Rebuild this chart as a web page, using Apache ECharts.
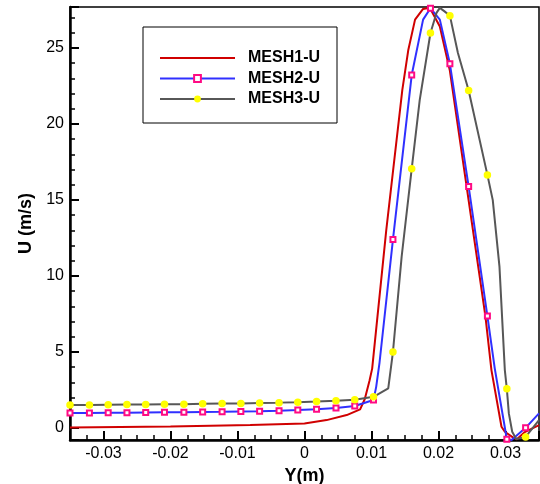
<!DOCTYPE html>
<html>
<head>
<meta charset="utf-8">
<script src="https://cdn.jsdelivr.net/npm/echarts@6/dist/echarts.min.js"></script>
<style>
  html, body { margin: 0; padding: 0; background: #fff; }
  #chart { width: 540px; height: 484px; }
</style>
</head>
<body>
<div id="chart"></div>
<script>
// marker positions (shared by MESH2 / MESH3 symbols)
const markerX = [-0.0350, -0.0321, -0.0293, -0.0265, -0.0237, -0.0209, -0.0180, -0.0152,
  -0.0123, -0.0095, -0.0067, -0.0038, -0.0010, 0.0018, 0.0047, 0.0075, 0.0103,
  0.0132, 0.0160, 0.0188, 0.0217, 0.0245, 0.0273, 0.0302, 0.0330]

// MESH1 - line only
const mesh1X = [-0.035, -0.0200, -0.0081, 0.0, 0.0033, 0.0063, 0.0083, 0.0090, 0.0097, 0.0101,
  0.0122, 0.0146, 0.0155, 0.0165, 0.0177, 0.0187, 0.0202, 0.0217, 0.0242, 0.0270, 0.0279,
  0.0294, 0.0299, 0.0311, 0.0317, 0.0328, 0.035]
const mesh1Y = [0.02, 0.09, 0.18, 0.29, 0.51, 0.84, 1.22, 1.9, 3.1, 3.9,
  13.0, 22.25, 24.89, 26.87, 27.57, 27.65, 26.42, 23.5, 15.88, 7.36, 3.8,
  0.07, -0.26, -0.63, -0.75, -0.3, 0.18]

// MESH2 - values at markers + extra line vertices
const mesh2MarkY = [0.98, 0.98, 0.99, 1.0, 1.01, 1.02, 1.03, 1.05, 1.06, 1.08, 1.1, 1.13,
  1.17, 1.22, 1.3, 1.44, 1.83, 12.39, 23.22, 27.62, 23.96, 15.88, 7.36, -0.75, 0.0]
const mesh2LineX = [0.0107, 0.0112, 0.0177, 0.0202, 0.0284, 0.0309, 0.035]
const mesh2LineY = [2.7, 4.3, 26.87, 26.87, 3.9, -0.8, 0.95]

// MESH3 - values at markers + extra line vertices
const mesh3MarkY = [1.5, 1.51, 1.52, 1.53, 1.54, 1.55, 1.56, 1.58, 1.6, 1.61, 1.64, 1.66,
  1.69, 1.73, 1.78, 1.85, 2.04, 4.99, 17.05, 25.99, 27.13, 22.21, 16.65, 2.57, -0.6]
const mesh3LineX = [0.0125, 0.0145, 0.0172, 0.0197, 0.0202, 0.0209, 0.0229, 0.0281,
  0.0291, 0.0299, 0.0305, 0.0310, 0.0316, 0.035]
const mesh3LineY = [2.6, 11.27, 21.59, 27.31, 27.64, 27.41, 24.67, 14.99,
  10.61, 3.8, 0.95, -0.26, -0.74, 0.5]

const X_MIN = -0.035, X_MAX = 0.035
const Y_MIN = -0.8, Y_MAX = 27.7

const RED  = '#d00000'
const BLUE = '#3030ff'
const GRAY = '#575757'
const PINK = '#ff0a84'
const YELLOW = '#ffff00'
const FONT = 'Liberation Sans, Arial, sans-serif'

// merge marker points and plain vertices into one sorted line
function buildData(markY, lineX, lineY) {
  const pts = markerX.map((x, i) => ({ value: [x, markY[i]] }))
  lineX.forEach((x, i) => pts.push({ value: [x, lineY[i]], symbol: 'none' }))
  pts.sort((a, b) => a.value[0] - b.value[0])
  return pts
}

const axisCommon = {
  axisLine:  { onZero: false, lineStyle: { color: '#000', width: 2.5 } },
  axisTick:  { inside: true, length: 9, lineStyle: { color: '#000', width: 2 } },
  splitLine: { show: false },
  axisLabel: { color: '#000', fontSize: 16, fontFamily: FONT, margin: 6,
               showMinLabel: false, showMaxLabel: false },
  nameLocation: 'middle',
  nameTextStyle: { color: '#000', fontSize: 18, fontWeight: 'bold', fontFamily: FONT },
}

const chart = echarts.init(document.getElementById('chart'))
chart.setOption({
  animation: false,
  backgroundColor: '#fff',
  grid: { left: 70, right: 1, top: 7, bottom: 44, show: true,
          borderColor: '#000', borderWidth: 1.5, outerBoundsMode: 'none' },
  legend: {
    orient: 'vertical', left: 143, top: 27,
    padding: [23, 17, 16, 16],
    itemWidth: 75, itemHeight: 8.5, itemGap: 4.5,
    borderColor: '#000', borderWidth: 1, backgroundColor: '#fff',
    textStyle: { color: '#000', fontSize: 16, fontWeight: 'bold', fontFamily: FONT,
                 padding: [0, 0, 0, 8] },
    data: [{ name: 'MESH1-U', itemStyle: { opacity: 0 } }, 'MESH2-U', 'MESH3-U'],
  },
  xAxis: Object.assign({}, axisCommon, {
    type: 'value', min: X_MIN, max: X_MAX,
    name: 'Y(m)', nameGap: 22,
    minorTick: { show: true, splitNumber: 4, length: 5, lineStyle: { color: '#000', width: 1.5 } },
  }),
  yAxis: Object.assign({}, axisCommon, {
    type: 'value', min: Y_MIN, max: Y_MAX,
    name: 'U (m/s)', nameGap: 34,
    minorTick: { show: true, splitNumber: 5, length: 5, lineStyle: { color: '#000', width: 1.5 } },
  }),
  series: [
    {
      name: 'MESH1-U', type: 'line', silent: true,
      data: mesh1X.map((x, i) => [x, mesh1Y[i]]),
      symbol: 'none',
      lineStyle: { color: RED, width: 2 },
      itemStyle: { color: RED },
    },
    {
      name: 'MESH2-U', type: 'line', silent: true,
      data: buildData(mesh2MarkY, mesh2LineX, mesh2LineY),
      symbol: 'rect', symbolSize: 5, showSymbol: true, showAllSymbol: true,
      lineStyle: { color: BLUE, width: 2 },
      itemStyle: { color: '#fff', borderColor: PINK, borderWidth: 2 },
    },
    {
      name: 'MESH3-U', type: 'line', silent: true,
      data: buildData(mesh3MarkY, mesh3LineX, mesh3LineY),
      symbol: 'circle', symbolSize: 7.5, showSymbol: true, showAllSymbol: true,
      lineStyle: { color: GRAY, width: 2 },
      itemStyle: { color: YELLOW, borderWidth: 0 },
    },
  ],
})
</script>
</body>
</html>
